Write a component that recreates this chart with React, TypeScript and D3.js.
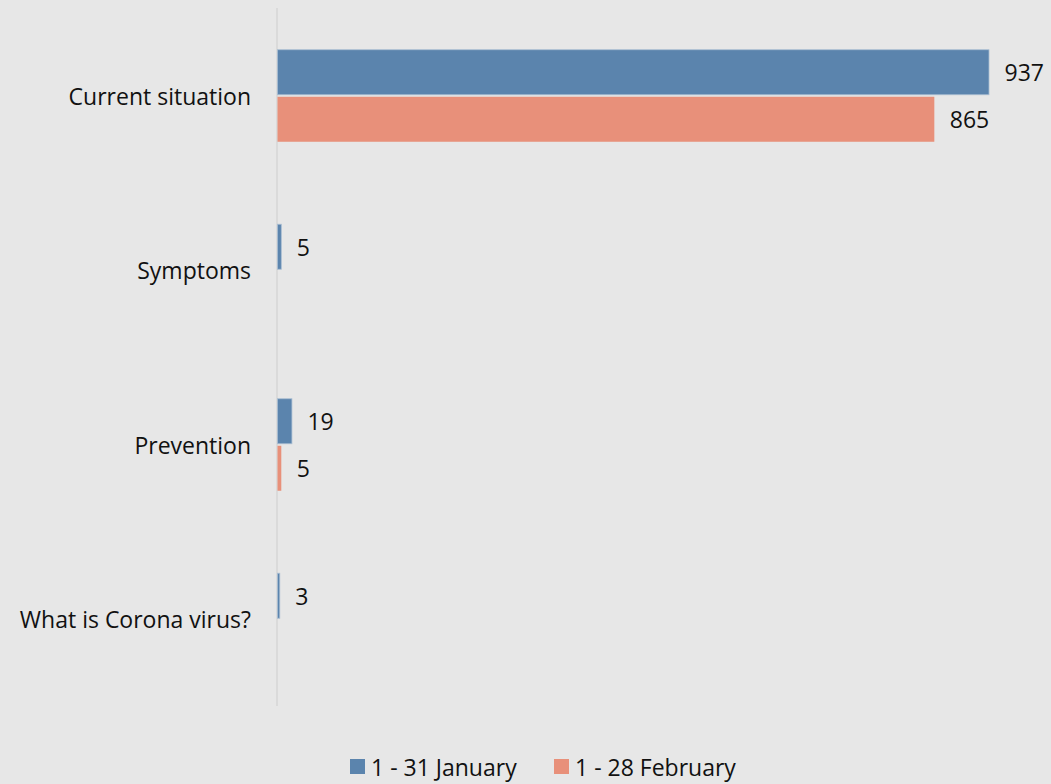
import React from "react";
import * as d3 from "d3";

const categories = ["Current situation", "Symptoms", "Prevention", "What is Corona virus?"];
const seriesNames = ["1 - 31 January", "1 - 28 February"];
const january = [937, 5, 19, 3];
const february: (number | null)[] = [865, null, 5, null];
const colors = ["#5b84ad", "#e8907a"];

const W = 1051;
const H = 784;
const FONT = "'Open Sans', sans-serif";
const FS = 23;

export default function App() {
  const x0 = 277;
  const x = d3.scaleLinear().domain([0, 937]).range([x0, 988.5]);
  const y = d3.scaleBand().domain(categories).range([8.5, 706.5]).paddingInner(0).paddingOuter(0);
  const barH = 45;
  const gap = 2;
  const series = [january, february];

  return (
    <svg width={W} height={H} style={{ position: "absolute", left: 0, top: 0, background: "#e7e7e7" }}>
      <rect x={0} y={0} width={W} height={H} fill="#e7e7e7" />
      <line x1={x0} x2={x0} y1={8} y2={706} stroke="#d6d6d6" strokeWidth={1.5} />
      {categories.map((c, i) => {
        const cy = (y(c) as number) + y.bandwidth() / 2;
        return (
          <g key={c}>
            <text x={251} y={cy} textAnchor="end" dominantBaseline="central" fontFamily={FONT} fontSize={FS} fill="#111">
              {c}
            </text>
            {series.map((s, si) => {
              const v = s[i];
              if (v == null) return null;
              const top = si === 0 ? cy - gap / 2 - barH : cy + gap / 2;
              const w = x(v) - x(0);
              return (
                <g key={si}>
                  <rect x={x(0) + 0.5} y={top} width={Math.max(w, 1.5)} height={barH} fill={colors[si]} stroke={si === 0 ? "#a9bdd2" : "none"} strokeWidth={0.8} />
                  <text x={x(v) + 16} y={top + barH / 2} dominantBaseline="central" fontFamily={FONT} fontSize={FS} fill="#111">
                    {v}
                  </text>
                </g>
              );
            })}
          </g>
        );
      })}
      {seriesNames.map((n, i) => {
        const lx = [350, 554][i];
        return (
          <g key={n}>
            <rect x={lx} y={759} width={15} height={15} fill={colors[i]} />
            <text x={lx + 21} y={767} dominantBaseline="central" fontFamily={FONT} fontSize={FS} fill="#111">
              {n}
            </text>
          </g>
        );
      })}
    </svg>
  );
}
